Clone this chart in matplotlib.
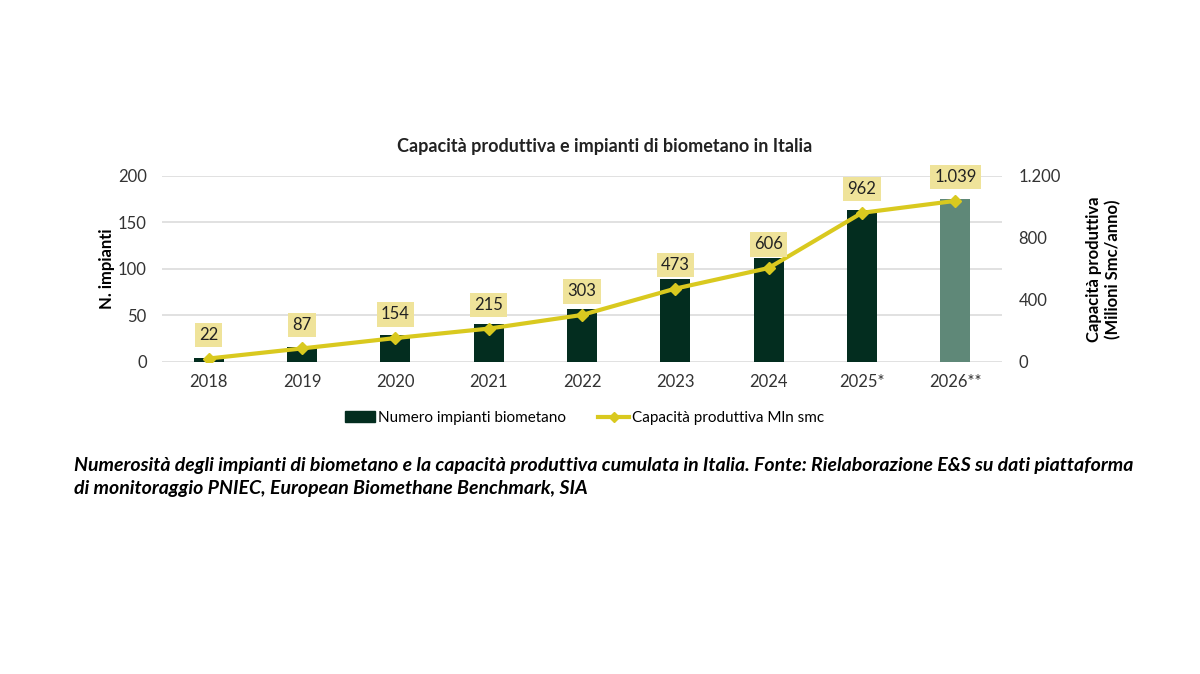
import matplotlib
matplotlib.use("Agg")
import matplotlib.pyplot as plt
from matplotlib.ticker import FuncFormatter
from matplotlib.lines import Line2D
from matplotlib.patches import Patch

plt.rcParams['font.family'] = ['Lato', 'DejaVu Sans']

# dati
anni = ['2018', '2019', '2020', '2021', '2022', '2023', '2024', '2025*', '2026**']
n_impianti = [4, 16, 29, 41, 57, 89, 112, 163, 175]
capacita = [22, 87, 154, 215, 303, 473, 606, 962, 1039]

col_bar = '#032d1f'
col_bar_prev = '#5f8878'
col_line = '#d9c91f'
col_box = '#efe39a'


def fmt_it(v, pos=None):
    return f"{int(v):,}".replace(",", ".")


fig = plt.figure(figsize=(12, 6.74), dpi=100)
ax = fig.add_axes([0.135, 0.463, 0.70, 0.276])
ax2 = ax.twinx()

x = list(range(len(anni)))
colori = [col_bar] * (len(anni) - 1) + [col_bar_prev]
ax.bar(x, n_impianti, width=0.32, color=colori, zorder=2)
ax.set_ylim(0, 200)
ax.set_yticks([0, 50, 100, 150, 200])
ax.set_xlim(-0.5, len(anni) - 0.5)
ax.set_xticks(x)
ax.set_xticklabels(anni)
ax.grid(axis='y', color='#dcdcdc', linewidth=1.2, zorder=0)
ax.set_axisbelow(True)

ax2.plot(x, capacita, color=col_line, linewidth=3, marker='D', markersize=6, zorder=3)
ax2.set_ylim(0, 1200)
ax2.set_yticks([0, 400, 800, 1200])
ax2.yaxis.set_major_formatter(FuncFormatter(fmt_it))

for xi, v in zip(x, capacita):
    ax2.annotate(fmt_it(v), (xi, v), xytext=(0, 17), textcoords='offset points',
                 ha='center', va='center', fontsize=12, color='#222222',
                 bbox=dict(boxstyle='square,pad=0.25', fc=col_box, ec='none'), zorder=4)

for a in (ax, ax2):
    for s in a.spines.values():
        s.set_visible(False)
    a.tick_params(length=0, labelsize=12, colors='#333333')
ax.tick_params(axis='y', pad=11)
ax2.tick_params(axis='y', pad=12)
ax.tick_params(axis='x', pad=9)

ax.set_ylabel('N. impianti', fontsize=12, fontweight='bold', labelpad=2)
ax2.set_ylabel('Capacità produttiva\n(Milioni Smc/anno)', fontsize=12,
               fontweight='bold', labelpad=18, rotation=90)

fig.text(0.504, 0.783, 'Capacità produttiva e impianti di biometano in Italia',
         ha='center', va='center', fontsize=13, fontweight='bold', color='#222222')

handles = [Patch(color=col_bar, label='Numero impianti biometano'),
           Line2D([0], [0], color=col_line, linewidth=3, marker='D', markersize=5,
                  label='Capacità produttiva Mln smc')]
fig.legend(handles=handles, loc='center', bbox_to_anchor=(0.487, 0.38), ncol=2,
           frameon=False, fontsize=11, handlelength=2.0, handletextpad=0.2,
           columnspacing=2.1)

fig.text(0.062, 0.292, "Numerosità degli impianti di biometano e la capacità produttiva cumulata in Italia. "
         "Fonte: Rielaborazione E&S su dati piattaforma\ndi monitoraggio PNIEC, European Biomethane Benchmark, SIA",
         ha='left', va='center', fontsize=14, fontweight='bold', fontstyle='italic',
         linespacing=1.4, color='black')

fig.savefig('out.png', dpi=100)
